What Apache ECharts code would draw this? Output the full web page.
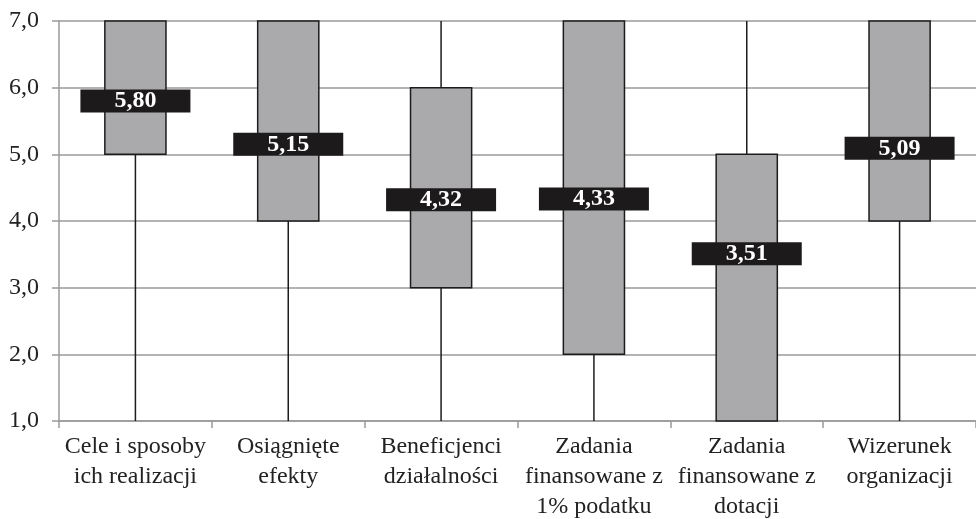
<!DOCTYPE html>
<html>
<head>
<meta charset="utf-8">
<script src="https://cdn.jsdelivr.net/npm/echarts@6/dist/echarts.min.js"></script>
<style>
html,body{margin:0;padding:0;background:#fff;}
#chart{width:976px;height:519px;}
</style>
</head>
<body>
<div id="chart"></div>
<script>
const categories = [
  "Cele i sposoby\nich realizacji",
  "Osiągnięte\nefekty",
  "Beneficjenci\ndziałalności",
  "Zadania\nfinansowane z\n1% podatku",
  "Zadania\nfinansowane z\ndotacji",
  "Wizerunek\norganizacji"
];
const minVals = [1, 1, 1, 1, 1, 1];
const q1Vals  = [5, 4, 3, 2, 1, 4];
const q3Vals  = [7, 7, 6, 7, 5, 7];
const maxVals = [7, 7, 7, 7, 7, 7];
const means   = [5.80, 5.15, 4.32, 4.33, 3.51, 5.09];
const yTicks  = [1, 2, 3, 4, 5, 6, 7];

const fmt = v => v.toFixed(2).replace('.', ',');
const FONT = "'Liberation Serif', 'Times New Roman', serif";

const boxData = categories.map((c, i) => [i, minVals[i], q1Vals[i], q3Vals[i], maxVals[i]]);
const meanData = categories.map((c, i) => [i, means[i]]);

const chart = echarts.init(document.getElementById('chart'), null, {renderer: 'canvas'});
chart.setOption({
  animation: false,
  backgroundColor: '#ffffff',
  grid: {left: 59, right: 0, top: 21, bottom: 98, containLabel: false, outerBoundsMode: 'none'},
  xAxis: {
    type: 'category',
    data: categories,
    boundaryGap: true,
    axisLine: {show: true, lineStyle: {color: '#9a9a9a', width: 1.5}},
    axisTick: {show: true, length: 7, lineStyle: {color: '#9a9a9a', width: 1.5}},
    splitLine: {show: false},
    axisLabel: {
      interval: 0, margin: 11, color: '#222', fontSize: 24, lineHeight: 30,
      fontFamily: FONT, align: 'center'
    }
  },
  yAxis: {
    type: 'value',
    min: yTicks[0],
    max: yTicks[yTicks.length - 1],
    interval: 1,
    axisLine: {show: true, lineStyle: {color: '#9a9a9a', width: 1.5}},
    axisTick: {show: true, length: 7, lineStyle: {color: '#9a9a9a', width: 1.5}},
    splitLine: {show: true, lineStyle: {color: '#9a9a9a', width: 1.5}},
    axisLabel: {
      margin: 20, color: '#222', fontSize: 24, fontFamily: FONT,
      formatter: v => v.toFixed(1).replace('.', ',')
    }
  },
  series: [
    {
      type: 'custom',
      data: boxData,
      z: 3,
      clip: false,
      encode: {x: 0, y: [1, 2, 3, 4]},
      renderItem: function (params, api) {
        const x = api.value(0);
        const pMin = api.coord([x, api.value(1)]);
        const pQ1 = api.coord([x, api.value(2)]);
        const pQ3 = api.coord([x, api.value(3)]);
        const pMax = api.coord([x, api.value(4)]);
        const bw = api.size([1, 0])[0] * 0.4;
        return {
          type: 'group',
          children: [
            {type: 'line', shape: {x1: pMin[0], y1: pMin[1], x2: pMax[0], y2: pMax[1]},
             style: {stroke: '#1c1c1c', lineWidth: 1.5}},
            {type: 'rect', shape: {x: pQ3[0] - bw / 2, y: pQ3[1], width: bw, height: pQ1[1] - pQ3[1]},
             style: {fill: '#aaaaad', stroke: '#1c1c1c', lineWidth: 1.5}}
          ]
        };
      }
    },
    {
      type: 'scatter',
      data: meanData,
      z: 5,
      symbol: 'rect',
      symbolSize: [110, 23],
      itemStyle: {color: '#1d1a1b', opacity: 1},
      label: {
        show: true, position: 'inside', color: '#ffffff', fontWeight: 'bold',
        fontSize: 24, fontFamily: FONT,
        formatter: p => fmt(p.value[1])
      }
    }
  ]
});
</script>
</body>
</html>
